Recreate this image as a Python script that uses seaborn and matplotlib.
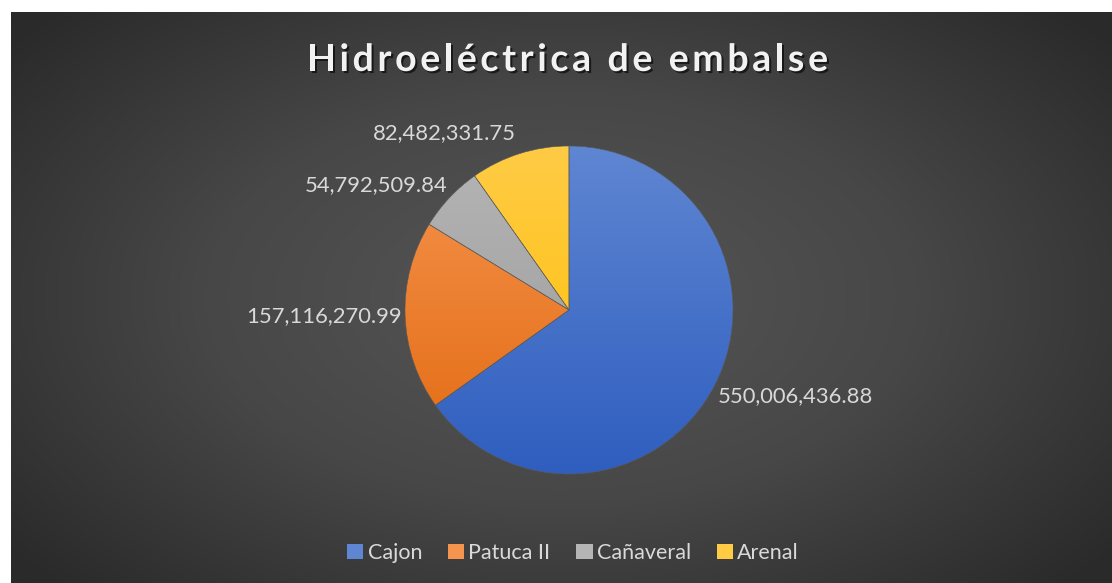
import numpy as np
import matplotlib
matplotlib.use("Agg")
import matplotlib.pyplot as plt
import matplotlib.patheffects as pe
from matplotlib.patches import Patch
import seaborn as sns

# ============================================================
# DATOS
# ============================================================
plantas = ["Cajon", "Patuca II", "Cañaveral", "Arenal"]
valores = [550006436.88, 157116270.99, 54792509.84, 82482331.75]
titulo = "Hidroeléctrica de embalse"

# colores (claro arriba -> oscuro abajo)
colores_claros = ["#5f86d2", "#f5944f", "#b5b5b5", "#ffcb45"]
colores_oscuros = ["#2f5ebf", "#e2690f", "#989898", "#fdbf00"]

sns.set_theme(style="dark")
plt.rcParams["font.family"] = ["Lato", "DejaVu Sans"]

W, H, DPI = 1112, 583, 100
fig = plt.figure(figsize=(W / DPI, H / DPI), dpi=DPI, facecolor="white")

# ---------- fondo con degradado radial ----------
bg = fig.add_axes([11 / W, 0, 1 - 11 / W, 1 - 12 / H])
bg.set_axis_off()
u = np.linspace(-1, 1, 400)
v = np.linspace(-1, 1, 220)
uu, vv = np.meshgrid(u, v)
r = np.clip(np.sqrt(uu ** 2 + (vv * 0.9) ** 2) / 1.3, 0, 1)
bg_cmap = sns.blend_palette(["#565656", "#474747", "#2a2a2a"], as_cmap=True)
bg.imshow(r, cmap=bg_cmap, vmin=0, vmax=1, aspect="auto",
          extent=[0, 1, 0, 1], interpolation="bicubic")
bg.set_xlim(0, 1)
bg.set_ylim(0, 1)

# ---------- pastel ----------
cx, cy, rad = 569, H - 310, 164
ax = fig.add_axes([(cx - rad) / W, (cy - rad) / H, 2 * rad / W, 2 * rad / H])
wedges, _ = ax.pie(valores, startangle=90, counterclock=False, radius=1,
                   wedgeprops=dict(linewidth=0.4, edgecolor="#5a5a5a"))
ax.set_xlim(-1, 1)
ax.set_ylim(-1, 1)
ax.set_axis_off()

grad = np.linspace(1, 0, 256).reshape(-1, 1)
for w, c1, c2 in zip(wedges, colores_claros, colores_oscuros):
    cmap = sns.blend_palette([c2, c1], as_cmap=True)
    im = ax.imshow(grad, cmap=cmap, extent=[-1, 1, -1, 1], aspect="auto",
                   zorder=w.get_zorder() - 0.1)
    im.set_clip_path(w)
    w.set_facecolor("none")

# etiquetas de datos (extremo externo)
ajustes = [(1.02, "left", "top"), (1.02, "right", "center"),
           (1.02, "right", "bottom"), (1.07, "right", "bottom")]
for w, val, (dist, ha, va) in zip(wedges, valores, ajustes):
    ang = np.deg2rad((w.theta1 + w.theta2) / 2)
    x, y = dist * np.cos(ang), dist * np.sin(ang)
    ax.text(x, y, f"{val:,.2f}", ha=ha, va=va, fontsize=15.8,
            color="#d9d9d9", clip_on=False)

# ---------- título (con espaciado entre letras) ----------
renderer = fig.canvas.get_renderer()
tprops = dict(fontsize=27, fontweight="bold")


def _ancho(s):
    t = fig.text(0, 0, s + "H", **tprops)
    t0 = fig.text(0, 0, "H", **tprops)
    wd = t.get_window_extent(renderer).width - t0.get_window_extent(renderer).width
    t.remove()
    t0.remove()
    return wd


ancho_total = 521
base = _ancho(titulo)
esp = (ancho_total - base) / (len(titulo) - 1)
x0 = 567.5 - ancho_total / 2
sombra = [pe.withSimplePatchShadow(offset=(1.5, -1.5), shadow_rgbFace="black", alpha=0.6)]
for i, ch in enumerate(titulo):
    if ch == " ":
        continue
    xp = x0 + _ancho(titulo[:i]) + i * esp
    fig.text(xp / W, 1 - 60 / H, ch, ha="left", va="center", color="#f2f2f2",
             path_effects=sombra, **tprops)

# ---------- leyenda ----------
handles = [Patch(facecolor=c, edgecolor="none") for c in colores_claros]
leg = fig.legend(handles, plantas, loc="center", bbox_to_anchor=(573 / W, 1 - 553 / H),
                 ncol=4, frameon=False, fontsize=15.5, labelcolor="#d9d9d9",
                 handlelength=0.75, handleheight=0.75, handletextpad=0.2,
                 columnspacing=1.2)

fig.savefig("out.png", dpi=DPI, facecolor="white")
